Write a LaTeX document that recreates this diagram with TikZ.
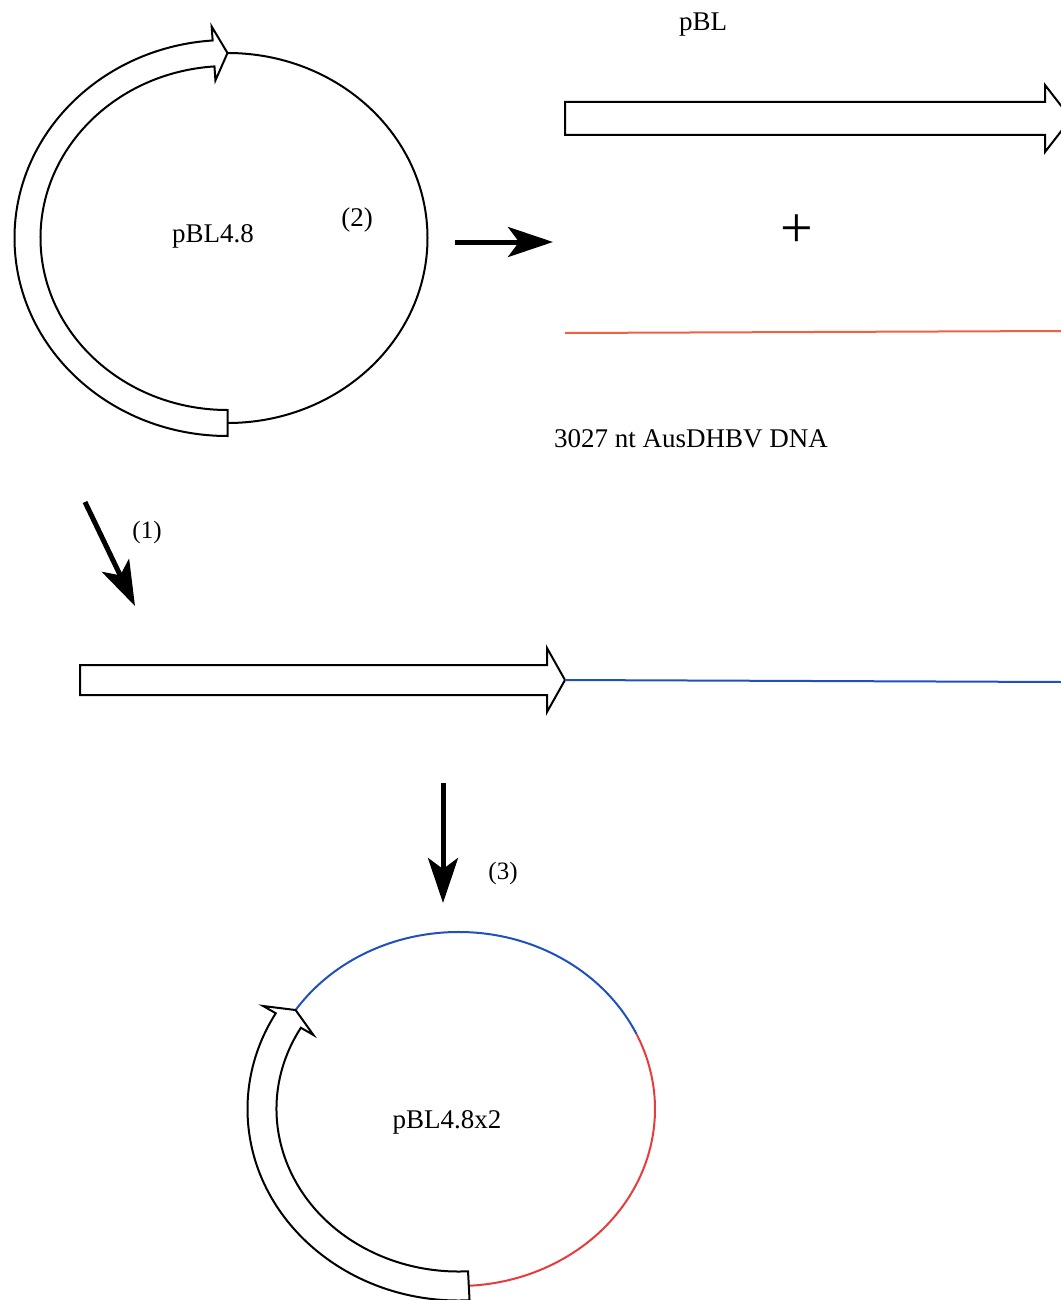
\documentclass[tikz,border=0pt]{standalone}
\usepackage{fontspec}
\setmainfont{Liberation Serif}
\usetikzlibrary{arrows.meta,calc}
\definecolor{dnablue}{RGB}{30,80,190}
\definecolor{dnared}{RGB}{240,95,70}
\definecolor{ringred}{RGB}{232,60,60}
\tikzset{
  band/.style={draw=black, line width=2pt, fill=white, line join=miter},
  ring/.style={draw=black, line width=2pt},
  bigarrow/.style={line width=5pt, -{Stealth[length=45pt,width=30pt,inset=11pt]}},
  lbl/.style={inner sep=0pt, anchor=base, font=\fontsize{27}{32}\selectfont},
  slbl/.style={inner sep=0pt, anchor=base, font=\fontsize{25}{30}\selectfont},
}
\begin{document}
\begin{tikzpicture}[x=1pt,y=-1pt]
\useasboundingbox (0,0) rectangle (1060,1300);

% ---- plasmid pBL4.8 ----
\coordinate (c1) at (227.5,238);
\draw[ring] ($(c1)+(270:200 and 185)$) arc[start angle=270, end angle=450, x radius=200, y radius=185];
\draw[band] ($(c1)+(90:213 and 198)$) arc[start angle=90, end angle=266, x radius=213, y radius=198]
  -- ($(c1)+(266:227 and 212)$) -- ($(c1)+(270:200 and 185)$) -- ($(c1)+(266:173 and 158)$)
  -- ($(c1)+(266:187 and 172)$) arc[start angle=266, end angle=90, x radius=187, y radius=172] -- cycle;
\node[lbl] (p48) at (213,242) {pBL4.8};
\node[lbl] (n2) at (357,226) {(2)};

% ---- arrow (2) ----
\coordinate (a2s) at (455,242);
\coordinate (a2e) at (553,242);
\draw[bigarrow] (a2s) -- (a2e);

% ---- pBL vector ----
\node[lbl] (pbl) at (703,31) {pBL};
\draw[band] (565,102) -- (1045,102) -- (1045,85) -- (1071,118.5) -- (1045,152) -- (1045,135) -- (565,135) -- cycle;
\node[inner sep=0pt, font=\fontsize{58}{60}\selectfont] (plus) at (797,231) {+};
\coordinate (r1) at (565,333);
\coordinate (r2) at (1062,331);
\draw[dnared, line width=2pt] (r1) -- (r2);
\node[lbl] (aus) at (691,447) {3027 nt AusDHBV DNA};

% ---- arrow (1) ----
\coordinate (a1s) at (85,502);
\coordinate (a1e) at (135,606);
\draw[bigarrow] (a1s) -- (a1e);
\node[slbl] (n1) at (147,538) {(1)};

% ---- linearised construct ----
\draw[band] (80,665) -- (547,665) -- (547,648) -- (565,680) -- (547,712) -- (547,695) -- (80,695) -- cycle;
\coordinate (b1) at (565,680);
\coordinate (b2) at (1062,682);
\draw[dnablue, line width=2pt] (b1) -- (b2);

% ---- arrow (3) ----
\coordinate (a3s) at (443,783);
\coordinate (a3e) at (443,903);
\draw[bigarrow] (a3s) -- (a3e);
\node[slbl] (n3) at (503,879) {(3)};

% ---- plasmid pBL4.8x2 ----
\coordinate (c2) at (458.5,1109);
\draw[dnablue, line width=2pt] ($(c2)+(214:196.5 and 177)$) arc[start angle=214, end angle=335, x radius=196.5, y radius=177];
\draw[ringred, line width=2pt] ($(c2)+(335:196.5 and 177)$) arc[start angle=335, end angle=447, x radius=196.5, y radius=177];
\draw[band] ($(c2)+(87:211 and 191.5)$) arc[start angle=87, end angle=210, x radius=211, y radius=191.5]
  -- ($(c2)+(210:225.5 and 206)$) -- ($(c2)+(214:196.5 and 177)$) -- ($(c2)+(210:167.5 and 148)$)
  -- ($(c2)+(210:182 and 162.5)$) arc[start angle=210, end angle=87, x radius=182, y radius=162.5] -- cycle;
\node[lbl] (p48x2) at (447,1128) {pBL4.8x2};
\end{tikzpicture}
\end{document}
